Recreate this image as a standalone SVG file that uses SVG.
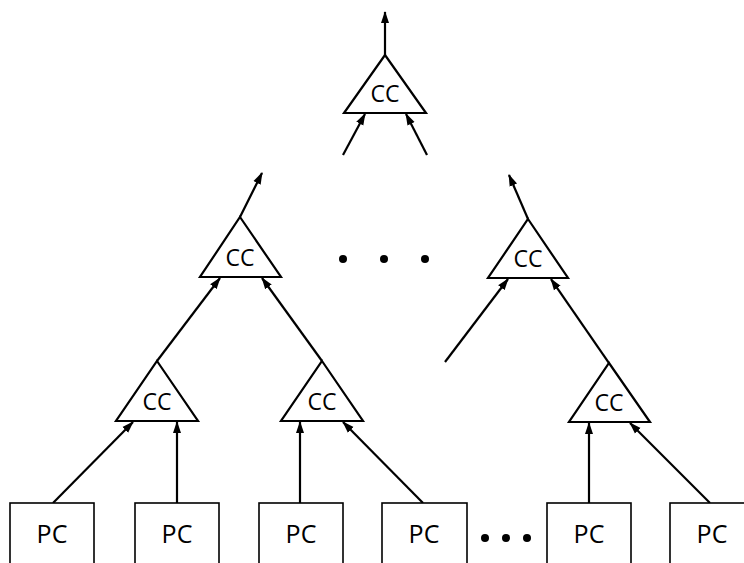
<svg xmlns="http://www.w3.org/2000/svg" width="744" height="563" viewBox="0 0 744 563">
  <style>
    .tri { fill: #fff; stroke: #000; stroke-width: 2.2; stroke-linejoin: miter; }
    .box { fill: #fff; stroke: #000; stroke-width: 1.6; }
    .lbl { font-family: "Open Sans", "Liberation Sans", sans-serif; fill: #000; text-anchor: middle; }
    .cc { font-size: 23px; }
    .pc { font-size: 25px; }
    .wire { stroke: #000; stroke-width: 2.2; fill: none; }
    .arr { marker-end: url(#head); }
    .dot { fill: #000; }
  </style>
  <defs>
    <marker id="head" markerUnits="userSpaceOnUse" markerWidth="12" markerHeight="10" viewBox="0 0 12 10" refX="11" refY="5" orient="auto">
      <path d="M0,1 L12,5 L0,9 Z" fill="#000"/>
    </marker>
  </defs>
  <rect width="744" height="563" fill="#fff"/>

  <!-- connectors -->
  <g id="connectors">
    <!-- top combiner -->
    <line class="wire arr" x1="385" y1="55" x2="385" y2="12"/>
    <line class="wire arr" x1="343" y1="155" x2="365" y2="114"/>
    <line class="wire arr" x1="427" y1="155" x2="406" y2="114"/>
    <!-- middle left -->
    <line class="wire arr" x1="240" y1="217" x2="262" y2="173"/>
    <line class="wire arr" x1="157" y1="361" x2="220" y2="278"/>
    <line class="wire arr" x1="322" y1="361" x2="262" y2="278"/>
    <!-- middle right -->
    <line class="wire arr" x1="528" y1="219" x2="509" y2="175"/>
    <line class="wire arr" x1="445" y1="362" x2="508" y2="279"/>
    <line class="wire arr" x1="609" y1="363" x2="551" y2="279"/>
    <!-- bottom level -->
    <line class="wire arr" x1="53" y1="503" x2="133" y2="422"/>
    <line class="wire arr" x1="177" y1="503" x2="177" y2="422"/>
    <line class="wire arr" x1="300" y1="503" x2="300" y2="422"/>
    <line class="wire arr" x1="423" y1="503" x2="343" y2="422"/>
    <line class="wire arr" x1="589" y1="503" x2="589" y2="423"/>
    <line class="wire arr" x1="710" y1="503" x2="630" y2="423"/>
  </g>

  <!-- combiner nodes -->
  <g id="cc-top">
    <polygon class="tri" points="385,55 426,113 344,113"/>
    <text class="lbl cc" x="385" y="102">CC</text>
  </g>
  <g id="cc-mid-left">
    <polygon class="tri" points="240,217 281,277 200,277"/>
    <text class="lbl cc" x="240" y="266">CC</text>
  </g>
  <g id="cc-mid-right">
    <polygon class="tri" points="528,219 568,278 488,278"/>
    <text class="lbl cc" x="528" y="267">CC</text>
  </g>
  <g id="cc-low-1">
    <polygon class="tri" points="157,361 198,421 116,421"/>
    <text class="lbl cc" x="157" y="410">CC</text>
  </g>
  <g id="cc-low-2">
    <polygon class="tri" points="322,361 363,421 281,421"/>
    <text class="lbl cc" x="322" y="410">CC</text>
  </g>
  <g id="cc-low-3">
    <polygon class="tri" points="609,363 650,422 569,422"/>
    <text class="lbl cc" x="609" y="411">CC</text>
  </g>

  <!-- ellipsis marks -->
  <g id="dots-mid">
    <circle class="dot" cx="343" cy="259" r="4"/>
    <circle class="dot" cx="384" cy="259" r="4"/>
    <circle class="dot" cx="425" cy="259" r="4"/>
  </g>
  <g id="dots-low">
    <circle class="dot" cx="485" cy="538" r="4"/>
    <circle class="dot" cx="506" cy="538" r="4"/>
    <circle class="dot" cx="527" cy="538" r="4"/>
  </g>

  <!-- processor nodes -->
  <g id="pc-1">
    <rect class="box" x="10" y="503" width="84" height="70"/>
    <text class="lbl pc" x="52" y="543">PC</text>
  </g>
  <g id="pc-2">
    <rect class="box" x="135" y="503" width="84" height="70"/>
    <text class="lbl pc" x="177" y="543">PC</text>
  </g>
  <g id="pc-3">
    <rect class="box" x="259" y="503" width="84" height="70"/>
    <text class="lbl pc" x="301" y="543">PC</text>
  </g>
  <g id="pc-4">
    <rect class="box" x="382" y="503" width="85" height="70"/>
    <text class="lbl pc" x="424" y="543">PC</text>
  </g>
  <g id="pc-5">
    <rect class="box" x="547" y="503" width="84" height="70"/>
    <text class="lbl pc" x="589" y="543">PC</text>
  </g>
  <g id="pc-6">
    <rect class="box" x="670" y="503" width="84" height="70"/>
    <text class="lbl pc" x="712" y="543">PC</text>
  </g>
</svg>
